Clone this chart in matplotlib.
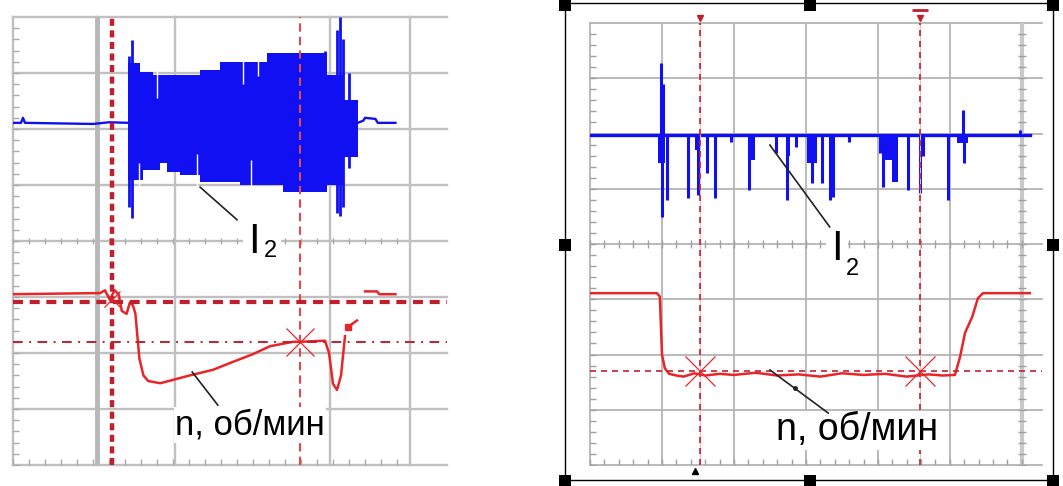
#
# Two oscillograms: current I2 (blue) and speed n (red), with cursors.
#

import matplotlib
matplotlib.use("Agg")
import matplotlib.pyplot as plt
from matplotlib.patches import Rectangle
import numpy as np

plt.rcParams['font.family'] = ['Liberation Sans', 'DejaVu Sans']

# ---- left oscillogram (units: screen divisions) ----
# blue I2: quiet baseline, dense band (envelopes), single spikes
l_base_pre_x = [0, 0.1, 0.125, 0.15, 1.0, 1.2, 1.44]
l_base_pre_y = [6.11, 6.11, 6.2, 6.11, 6.09, 6.12, 6.11]
l_base_post_x = [4.31, 4.38, 4.4, 4.53, 4.56, 4.78]
l_base_post_y = [6.11, 6.15, 6.2, 6.18, 6.11, 6.11]

l_env_x = [1.44, 1.59, 1.75, 2.34, 2.59, 3.18, 3.93, 4.13, 4.31]
l_env_top = [7.18, 7.02, 6.96, 7.05, 7.2, 7.36, 6.96, 6.52, 6.52]
l_envb_x = [1.44, 1.63, 1.84, 1.93, 2.09, 2.34, 2.84, 3.38, 3.93, 4.13, 4.31]
l_env_bot = [5.09, 5.27, 5.39, 5.23, 5.18, 5.05, 5.0, 4.88, 5.0, 5.5, 5.5]

l_spike_x = [1.45, 1.49, 3.9, 4.05, 4.09, 4.12, 4.2]
l_spike_lo = [4.6, 4.41, 4.9, 4.5, 4.45, 4.6, 5.3]
l_spike_hi = [7.3, 7.59, 7.4, 7.77, 8.0, 7.6, 7.0]

# white gaps inside the band
l_gap_top_x = [1.8, 2.87, 3.06]
l_gap_top_y = [6.55, 6.8, 6.95]
l_gap_bot_x = [1.58, 2.3, 2.98]
l_gap_bot_y = [5.4, 5.55, 5.45]

# red n
l_n_x = [0, 1.09, 1.15, 1.21, 1.27, 1.32, 1.36, 1.42, 1.46, 1.5, 1.53, 1.58,
         1.63, 1.69, 1.84, 2.0, 2.21, 2.5, 2.71, 3.0, 3.21, 3.5, 3.59, 3.9,
         3.95, 4.0, 4.05, 4.1, 4.15]
l_n_y = [3.05, 3.07, 3.12, 2.95, 3.12, 3.05, 2.75, 2.7, 2.9, 2.85, 2.7, 1.9,
         1.6, 1.5, 1.46, 1.52, 1.6, 1.7, 1.82, 1.98, 2.12, 2.2, 2.2, 2.22,
         2.0, 1.45, 1.34, 1.6, 2.3]
l_n2_x = [4.19, 4.22, 4.3]
l_n2_y = [2.46, 2.5, 2.58]
l_n3_x = [4.4, 4.55, 4.58, 4.78]
l_n3_y = [3.1, 3.1, 3.05, 3.05]

l_cur_v = [1.24, 3.59]
l_cur_h = [2.91, 2.2]
l_grid_x = [0, 1.05, 2.03, 3.96, 4.96]

# ---- right oscillogram ----
r_base_x = [0, 6.11]
r_base_y = [5.98, 5.98]
r_spike_x = [0.99, 1.0, 1.02, 1.07, 1.36, 1.5, 1.62, 1.73, 1.96, 2.21, 2.58,
             2.74, 2.86, 3.08, 3.22, 3.33, 3.38, 3.6, 4.03, 4.07, 4.42, 4.58,
             4.62, 4.97, 5.18, 5.19, 5.97]
r_spike_y = [7.28, 4.49, 6.9, 4.8, 4.83, 4.89, 5.28, 4.83, 5.85, 4.98, 5.65,
             4.8, 5.75, 5.1, 5.1, 4.8, 4.85, 5.85, 5.65, 5.03, 4.98, 4.92,
             5.6, 4.8, 6.43, 5.47, 6.06]
r_block_x0 = [0.94, 1.46, 2.21, 2.75, 3.01, 4.1, 4.19, 5.1]
r_block_x1 = [1.04, 1.54, 2.29, 2.78, 3.15, 4.28, 4.28, 5.25]
r_block_y = [5.47, 5.7, 5.52, 5.6, 5.47, 5.52, 5.12, 5.83]

r_n_x = [0, 0.93, 0.97, 1.0, 1.04, 1.1, 1.2, 1.3, 1.45, 1.6, 1.8, 2.0, 2.3,
         2.6, 2.9, 3.2, 3.5, 3.8, 4.1, 4.4, 4.7, 4.9, 5.07, 5.14, 5.21, 5.31,
         5.39, 5.46, 6.11]
r_n_y = [3.11, 3.11, 3.05, 2.0, 1.75, 1.65, 1.62, 1.6, 1.66, 1.62, 1.65, 1.63,
         1.67, 1.62, 1.64, 1.6, 1.66, 1.63, 1.65, 1.6, 1.64, 1.62, 1.63, 1.95,
         2.39, 2.68, 3.02, 3.11, 3.11]
r_cur_v = [1.53, 4.58]
r_cur_h = 1.70

BLUE = '#1010f2'
RED = '#e8262a'
DRED = '#c0202e'
GRID = '#c0c0c0'


def step_at(xs, bx, by):
    # value of a post-step envelope at the points xs
    i = np.searchsorted(bx, xs, side='right') - 1
    return np.asarray(by)[np.clip(i, 0, len(by) - 1)]


fig = plt.figure(figsize=(10.63, 4.86), dpi=100)
ax1 = fig.add_axes([13/1063, 21/486, 434/1063, 448/486])
ax2 = fig.add_axes([590/1063, 21/486, 452/1063, 442/486])

# ---------------- left ----------------
ax = ax1
ax.set_xlim(0, 5.425)
ax.set_ylim(0, 8)
ax.set_axis_off()
for y in range(9):
    ax.axhline(y, color=GRID, lw=1.7, zorder=0, clip_on=False)
for x in l_grid_x:
    ax.axvline(x, color=GRID, lw=1.7, zorder=0, clip_on=False)
ax.axvline(1.05, color='#b8b8b8', lw=3.5, zorder=0)
tk = np.arange(0, 5.0, 0.2)
ax.plot(tk, np.zeros_like(tk) + 0.05, '|', color='#aaaaaa', ms=5, zorder=0)
ax.plot(tk, np.zeros_like(tk) + 4, '|', color='#aaaaaa', ms=5, zorder=0)
tk = np.arange(0, 8, 0.2)
ax.plot(np.zeros_like(tk) + 0.04, tk, '_', color='#aaaaaa', ms=5, zorder=0)

ax.plot(l_base_pre_x, l_base_pre_y, color=BLUE, lw=1.7)
ax.plot(l_base_post_x, l_base_post_y, color=BLUE, lw=1.7)
bx = np.union1d(l_env_x, l_envb_x)
ax.fill_between(bx, step_at(bx, l_envb_x, l_env_bot), step_at(bx, l_env_x, l_env_top),
                step='post', color=BLUE, lw=0, zorder=2)
ax.vlines(l_spike_x, l_spike_lo, l_spike_hi, color=BLUE, lw=2, zorder=2)
ax.vlines(l_gap_top_x, l_gap_top_y, 7.5, color='white', lw=1, zorder=2)
ax.vlines(l_gap_bot_x, 4.7, l_gap_bot_y, color='white', lw=1, zorder=2)

ax.plot(l_n_x, l_n_y, color=RED, lw=1.8, zorder=3)
ax.plot(l_n2_x, l_n2_y, color=RED, lw=1.8, zorder=3)
ax.plot(l_n2_x[:1], l_n2_y[:1], 's', color=RED, ms=5, zorder=3)
ax.plot(l_n3_x, l_n3_y, color=RED, lw=1.8, zorder=3)

ax.axvline(l_cur_v[0], color=DRED, lw=3.2, dashes=(1.6, 1.0), zorder=4, clip_on=False)
ax.axvline(l_cur_v[1], color='#e04a4a', lw=1.5, dashes=(4, 2.5), zorder=4, clip_on=False)
ax.axhline(l_cur_h[0], color=DRED, lw=3.0, dashes=(2.4, 1.6), zorder=4)
ax.axhline(l_cur_h[1], color=DRED, lw=1.4, dashes=(5, 3.3, 1, 3.3), zorder=4)
ax.plot([l_cur_v[1]], [l_cur_h[1]], 'x', color=RED, ms=20, mew=0.9, zorder=5)
ax.plot([l_cur_v[0]], [l_cur_h[0] + 0.05], 'x', color=RED, ms=12, mew=0.9, zorder=5)

ax.text(3.01, 3.79, 'I', fontsize=30, ha='center', va='baseline', zorder=6,
        bbox=dict(fc='white', ec='none', pad=4))
ax.text(3.22, 3.72, '2', fontsize=17, ha='center', va='baseline', zorder=6,
        bbox=dict(fc='white', ec='none', pad=3))
ax.plot([2.34, 2.8], [4.96, 4.38], color='#222222', lw=1.2, zorder=6)
ax.text(2.96, 0.54, 'n, об/мин', fontsize=25, ha='center', va='baseline', zorder=6,
        bbox=dict(fc='white', ec='none', pad=1))
ax.plot([2.24, 2.56], [1.66, 1.07], color='#222222', lw=1.2, zorder=6)

# ---------------- right ----------------
ax = ax2
ax.set_xlim(0, 6.28)
ax.set_ylim(0, 8)
ax.set_axis_off()
for y in range(9):
    ax.axhline(y, color='#b4b4b4', lw=1.3, zorder=0, clip_on=False)
for x in range(7):
    ax.axvline(x, color='#b4b4b4', lw=1.3, zorder=0, clip_on=False)
ax.axvline(6, color='#c8c8c8', lw=3, zorder=0)
tk = np.arange(0, 6.2, 0.2)
ax.plot(tk, np.zeros_like(tk) + 0.05, '|', color='#a0a0a0', ms=5, zorder=0)
ax.plot(tk, np.zeros_like(tk) + 4, '|', color='#a0a0a0', ms=6, zorder=0)
tk = np.arange(0, 8, 0.2)
ax.plot(np.zeros_like(tk) + 0.04, tk, '_', color='#a0a0a0', ms=5, zorder=0)
ax.plot(np.zeros_like(tk) + 6, tk, '_', color='#a0a0a0', ms=6, zorder=0)

ax.plot(r_base_x, r_base_y, color=BLUE, lw=2.4, zorder=2)
ax.vlines(r_spike_x, r_base_y[0], r_spike_y, color=BLUE, lw=2.2, zorder=2)
for x0, x1, yb in zip(r_block_x0, r_block_x1, r_block_y):
    ax.fill_between([x0, x1], [yb, yb], r_base_y[0], color=BLUE, lw=0, zorder=2)

ax.plot(r_n_x, r_n_y, color=RED, lw=1.8, zorder=3)
for x in r_cur_v:
    ax.axvline(x, color='#f4b8b8', lw=0.8, zorder=3, clip_on=False)
    ax.axvline(x, color=DRED, lw=1.2, dashes=(3.6, 3.0), zorder=4, clip_on=False)
    ax.plot([x], [r_cur_h], 'x', color=RED, ms=22, mew=0.9, zorder=5)
    ax.plot([x], [8.09], 'v', color=DRED, ms=5, clip_on=False, zorder=5)
ax.plot([r_cur_v[1]], [8.23], '_', color=DRED, ms=12, mew=2, clip_on=False)
ax.plot([r_cur_v[0] - 0.07], [-0.1], '^', color='black', ms=5, clip_on=False)
ax.axhline(r_cur_h, color=DRED, lw=1.2, dashes=(3.6, 3.0), zorder=4)

ax.text(3.43, 3.71, 'I', fontsize=30, ha='center', va='baseline', zorder=6,
        bbox=dict(fc='white', ec='none', pad=4))
ax.text(3.65, 3.44, '2', fontsize=17, ha='center', va='baseline', zorder=6,
        bbox=dict(fc='white', ec='none', pad=3))
ax.plot([2.5, 3.33], [5.79, 4.31], color='#222222', lw=1.2, zorder=6)
ax.text(3.71, 0.45, 'n, об/мин', fontsize=27, ha='center', va='baseline', zorder=6,
        bbox=dict(fc='white', ec='none', pad=1))
ax.plot([2.5, 3.31], [1.72, 0.94], color='#222222', lw=1.2, zorder=6)
ax.plot([2.85], [1.4], 'o', color='#222222', ms=2.5, zorder=6)

# selection frame around the right picture
fig.add_artist(Rectangle((565/1063, 6/486), 488/1063, 477/486, fill=False,
                         ec='black', lw=1, transform=fig.transFigure))
for hx in [565, 810, 1053]:
    for hy in [5, 245, 481]:
        if hx == 810 and hy == 245:
            continue
        fig.add_artist(Rectangle(((hx - 6)/1063, (486 - hy - 6)/486), 12/1063, 12/486,
                                 fc='black', ec='none', transform=fig.transFigure))

fig.savefig('out.png', dpi=100, facecolor='white')
